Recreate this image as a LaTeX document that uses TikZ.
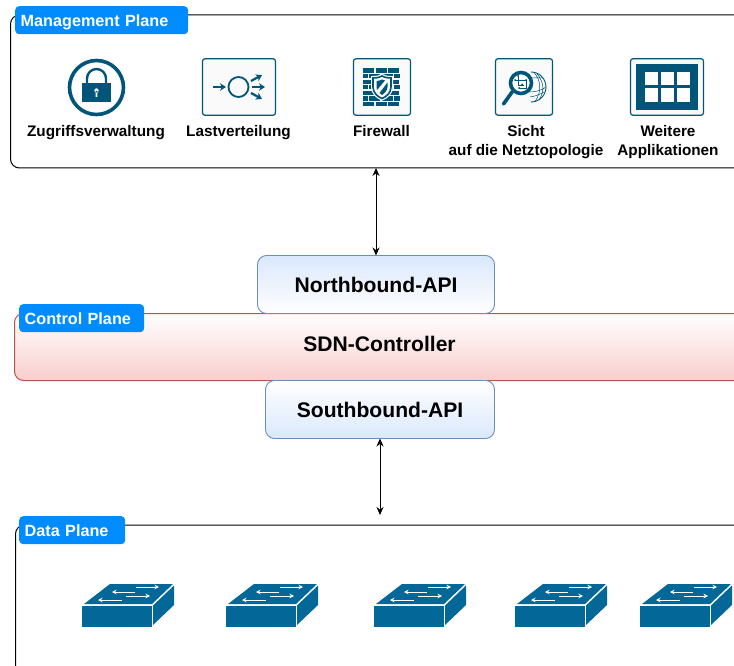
\documentclass[tikz,border=0pt]{standalone}
\usepackage{fontspec}
\setmainfont{Liberation Sans}
\usetikzlibrary{arrows.meta}
\definecolor{tagblue}{HTML}{008CFF}
\definecolor{icondark}{HTML}{005578}
\definecolor{switchblue}{HTML}{036897}
\definecolor{bluefill}{HTML}{DAE8FC}
\definecolor{blueline}{HTML}{6C8EBF}
\definecolor{redfill}{HTML}{F8CECC}
\definecolor{redline}{HTML}{B85450}
\begin{document}
\begin{tikzpicture}[
    x=1pt, y=-1pt,
    plane/.style={draw, line width=1pt, rounded corners=9pt, anchor=north west, inner sep=0pt, outer sep=0pt, minimum width=900pt},
    tag/.style={fill=tagblue, text=white, rounded corners=4pt, anchor=north west, inner xsep=5.5pt, inner ysep=0pt,
      minimum height=28pt, text height=12pt, text depth=0pt, font=\bfseries\fontsize{16.2}{19}\selectfont},
    api/.style={draw=blueline, line width=0.9pt, rounded corners=9pt, inner sep=0pt, outer sep=0pt,
      minimum height=58pt, font=\bfseries\fontsize{21.1}{25}\selectfont},
    caption/.style={align=center, inner sep=0pt, anchor=base, font=\bfseries\fontsize{15.3}{18.5}\selectfont},
    iconbox/.style={draw=icondark, line width=1.2pt, fill=black!2, rounded corners=2.5pt, minimum height=56.5pt, inner sep=0pt},
    link/.style={{Stealth[length=8pt,width=7pt]}-{Stealth[length=8pt,width=7pt]}, line width=0.9pt},
    iconarrow/.style={icondark, line width=2.2pt, -{Stealth[length=6pt,width=7.5pt]}},
    switcharrow/.style={white, line width=1pt, -{Stealth[length=4.5pt,width=4.5pt]}},
    switchicon/.pic={
      \fill[switchblue] (0,0) rectangle (70,21);
      \fill[switchblue] (2,-2) -- (28,-22) -- (91,-22) -- (70,-2) -- cycle;
      \fill[switchblue] (71,-0.5) -- (92,-20.5) -- (92,-1) -- (71,19) -- cycle;
      \draw[switcharrow] (54,-19) -- (77,-19);
      \draw[switcharrow] (53,-14) -- (30,-14);
      \draw[switcharrow] (44,-10) -- (68,-10);
      \draw[switcharrow] (40,-6) -- (16,-6);
    }
  ]
  \useasboundingbox (0,0) rectangle (734,666);
  \clip (0,0) rectangle (734,666);

  \node[plane, minimum height=153pt] (management) at (10.5,15) {};
  \node[plane, draw=redline, top color=white, bottom color=redfill, minimum height=67pt] (control) at (14.5,313.5) {};
  \node[plane, minimum height=200pt] (data) at (15.5,525) {};

  \node[tag, text width=162pt] (managementtag) at (15,6) {Management Plane};
  \node[tag, text width=114pt] (controltag) at (19,304) {Control Plane};
  \node[tag, text width=95pt] (datatag) at (19,516) {Data Plane};

  \node[api, top color=bluefill, bottom color=white, minimum width=237pt] (north) at (376,284.5) {Northbound-API};
  \node[api, top color=white, bottom color=bluefill, minimum width=229pt] (south) at (380,409.5) {Southbound-API};
  \node[inner sep=0pt, font=\bfseries\fontsize{21.1}{25}\selectfont] (controller) at (379.5,344) {SDN-Controller};

  \coordinate (dataend) at (380,515);
  \draw[link] (north.north) -- (north.north |- management.south);
  \draw[link] (south.south) -- (dataend);

  % lock
  \node[circle, draw=icondark, line width=3.6pt, minimum size=54pt, inner sep=0pt] (lock) at (96.5,87.5) {};
  \draw[icondark, line width=2.4pt] (87,84) -- (87,78.5) arc[start angle=180, end angle=360, radius=9.5] -- (106,84);
  \fill[icondark] (82,83.5) rectangle (111,102);
  \fill[white] (96.5,90.5) circle (2.2) (95.7,91) rectangle (97.3,97);
  \node[caption] (lockcaption) at (96,137) {Zugriffsverwaltung};

  % balancer
  \node[iconbox, minimum width=73pt] (balancer) at (239,87) {};
  \node[circle, draw=icondark, line width=1.8pt, minimum size=20pt, inner sep=0pt] (balancerhub) at (238.5,87) {};
  \draw[iconarrow] (213,87) -- (226,87);
  \draw[iconarrow] (251,81) -- (262,75);
  \draw[iconarrow] (252,87) -- (265,87);
  \draw[iconarrow] (251,93) -- (262,99);
  \node[caption] (balancercaption) at (238.5,137) {Lastverteilung};

  % firewall
  \node[iconbox, minimum width=57pt] (firewall) at (382,87) {};
  \foreach \row in {0,2,4,6} {
    \foreach \col in {0,1,2} {
      \fill[icondark] (363+\col*12.6,68.5+\row*5.6) rectangle ++(11.2,4.1);
    }
  }
  \foreach \row in {1,3,5} {
    \fill[icondark] (363,68.5+\row*5.6) rectangle ++(4.5,4.1);
    \foreach \col in {0,1} {
      \fill[icondark] (369+\col*12.6,68.5+\row*5.6) rectangle ++(11.2,4.1);
    }
    \fill[icondark] (394.2,68.5+\row*5.6) rectangle ++(5.8,4.1);
  }
  \draw[white, line width=4pt, fill=white] (382,76) .. controls (378,78) and (375,78) .. (373,78) -- (373,87)
    .. controls (373,93) and (378,97) .. (382,98.5) .. controls (386,97) and (391,93) .. (391,87) -- (391,78)
    .. controls (389,78) and (386,78) .. (382,76) -- cycle;
  \draw[icondark, line width=1.6pt] (382,76) .. controls (378,78) and (375,78) .. (373,78) -- (373,87)
    .. controls (373,93) and (378,97) .. (382,98.5) .. controls (386,97) and (391,93) .. (391,87) -- (391,78)
    .. controls (389,78) and (386,78) .. (382,76) -- cycle;
  \fill[icondark] (382,79.5) .. controls (380,80.5) and (378,81) .. (376.5,81) -- (376.5,87) .. controls (376.5,88) and (376.7,89) .. (377,90) -- (385,80.5) -- cycle;
  \fill[icondark] (387.5,82.5) -- (387.5,87) .. controls (387.5,90.5) and (384.5,93.5) .. (382,95) .. controls (381,94.5) and (380.2,93.8) .. (379.5,93) -- cycle;
  \node[caption] (firewallcaption) at (381.5,137) {Firewall};

  % topology
  \node[iconbox, minimum width=57pt] (topology) at (524,87) {};
  \draw[icondark, line width=0.9pt] (531,72) arc[start angle=-90, end angle=90, radius=15];
  \draw[icondark, line width=0.5pt] (534,72.5) .. controls (541,80) and (542,92) .. (535,101.5)
    (537,73.5) .. controls (545,84) and (544,92) .. (539,100)
    (528,92) .. controls (534,92) and (541,91) .. (546,87)
    (530,97) .. controls (536,96) and (541,94) .. (544,92)
    (531,78) -- (543,78);
  \node[circle, draw=icondark, fill=white, line width=3.6pt, minimum size=21pt, inner sep=0pt] (lens) at (521,83) {};
  \draw[icondark, line cap=round, line width=3.6pt] (lens.south west) -- (503.5,104);
  \draw[icondark, line width=0.6pt] (515,80) -- (526,80) -- (526,88) -- (519,88) (518,76) -- (518,85) -- (524,85);
  \fill[icondark] (515,80) circle (1) (526,80) circle (1) (519,88) circle (1) (518,76) circle (1) (522,84.5) circle (1);
  \node[caption] (topologycaption) at (526,155.5) {Sicht\\auf die Netztopologie};

  % apps
  \node[iconbox, minimum width=73pt] (apps) at (667,87) {};
  \fill[icondark] (636,64) rectangle (698,110);
  \foreach \cellx in {645,661,676.5} {
    \foreach \celly in {72,88.5} {
      \fill[white] (\cellx,\celly) rectangle ++(13,13.5);
    }
  }
  \node[caption] (appscaption) at (668,155.5) {Weitere\\Applikationen};

  \pic at (82,606) {switchicon};
  \pic at (226,606) {switchicon};
  \pic at (374,606) {switchicon};
  \pic at (515,606) {switchicon};
  \pic at (640,606) {switchicon};
\end{tikzpicture}
\end{document}
